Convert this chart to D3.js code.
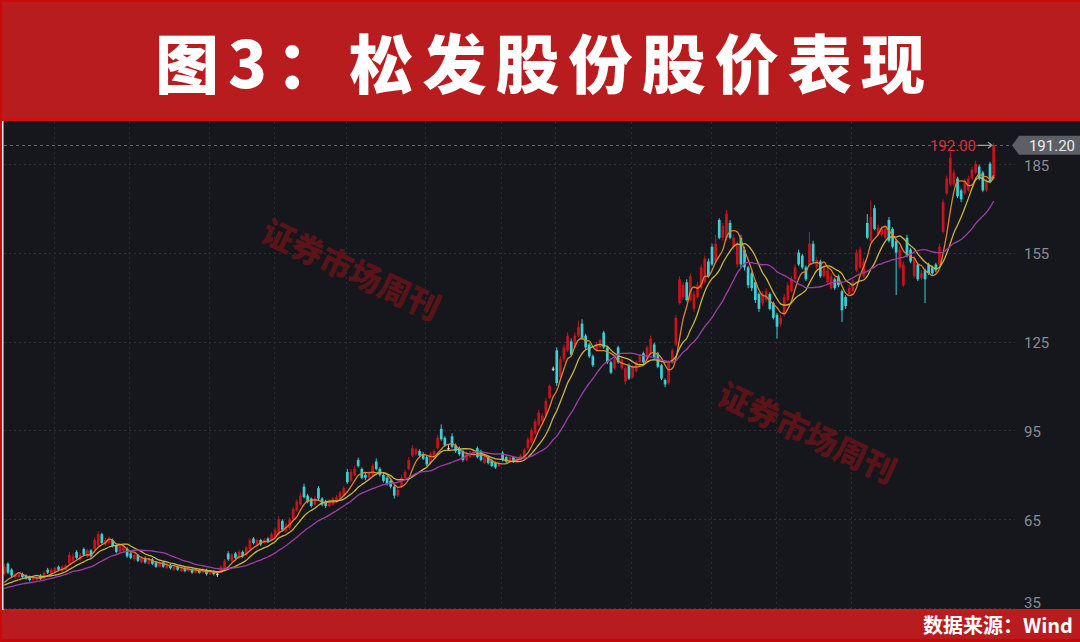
<!DOCTYPE html>
<html><head><meta charset="utf-8">
<script src="https://cdn.jsdelivr.net/npm/d3@7"></script>
<style>
html,body{margin:0;padding:0;background:#15171c;}
svg{display:block;}
</style></head><body>
<svg id="c" width="1080" height="642"></svg>
<script>
const title = "图3：松发股份股价表现";
const source = "数据来源：Wind";
const watermark = "证券市场周刊";
const yTicks = [35, 65, 95, 125, 155, 185];
const lastPrice = 191.20;
const maxPrice = 192.00;
const monthStarts = [14, 35, 57, 75, 95, 117, 138, 153, 174, 196, 214, 235];
const maPeriods = [5, 10, 20];
const maColors = ["#e3822a", "#c9b540", "#a23ca8"];
// closes before the first visible candle (estimated from the MA lines)
const preCloses = [40,39.5,40.5,41,40,40.5,41.5,41,40.5,41,42,41.5,42,42.5,41.5,42,42.5,43,42];

const open = [
46.5,50,48,45.5,45.5,46.5,46,45.5,44.5,44.5,
46,45,48,46.5,47,49,47.5,48,50,51,
54,51.5,55,52.5,54.5,55,56,60,56.5,57,
58,56,54,54.5,55,53.5,51.5,53,50.5,52,
50,51.5,50.5,49,50.5,48.5,49.5,48,49,47.5,
48.5,47.5,48,47,48,47,48,46.5,47.5,46.6,
47,48.5,53.5,51,53.5,52,54,53,55,58.5,
56.5,58,57,58.5,58,59,60,64.5,61,62,
65,68,70,76,73,72,70,75.5,72,71,
69.5,70,71,72,73,81,78,80,85,82,
80,79,80,84.5,82,80,79,78,76,73,
76,79,82,86.5,87,88,87,86,84,86,
89,95.5,92.5,89,93,90,89,88,85,86,
86.5,89,88,84,86,85,84,83,87.5,86,
84.5,86,84.5,85,86,89,91,94,97,98,
100,106,115.8,122,113,119,122,125,123,127,
131,127,124,120,122,123,128,123,118,116,
123,116,111.5,117,113,115,118,121,119,121,
124,121,117,112,111,118,124,138,140,145,
139,136,140,143,145,152,157,152,166,160,
160,165,157,151,160,156,150,148,145,141,
138,139,141,138,134,131,134,139,142,146,
155,154,150,151,158,150,152,147,145,143,
146,147,142,140,141,142,149,150,147,165,
159,170,161,161,160,166,163,159,150,144,
160,156,147,151,146.5,149,151,150,151,151,
162,175,178,178,180,176,175,176,180,182,
184,182,176,185,180];

const close = [
49,47,46,46.5,46.5,45.5,45,44.5,45.5,45.5,
45,47,47,48,48.5,48,49,49.5,53,52.5,
52,53,53,54.5,52.5,58,60,57,58,58.5,
56,54,56,56,52.5,52,53,51,52,50.5,
51.5,50,49,50.5,49,50,48.5,49,48,48.5,
47.5,48.5,47,48,47,48,46.5,47.5,46.5,46.6,
49,51,51.5,53,52,54,52.5,55.5,58,57,
58,56.5,58,57.5,60,61.5,65,61.5,63,65,
68.5,71,73,72.5,71,69.5,72,72,70,69.5,
71,72,72.5,74,75.5,77.5,81,82,83,79,
79,80.5,83,82,80,78,77,76,73,75,
79,81,85,89,88.5,86.5,85.5,83.5,87,88,
92.5,92,90,89,89.5,88,87,85,87,87.5,
88,86,85,86,84,83,82.5,84,85,84.5,
86,84.5,85.5,86.5,88.5,92,95,98,101,100,
105,110,115.8,111,119,123,127,120.5,127,130,
126,123,120,117,124,125.5,123,118,114.5,119,
118,119,116,112.5,116.5,118,120,118,123,126,
119.5,116.5,112.5,110.5,118,122,133,146,144,139,
147,141,144,150,153,147,151,158,160,164,
168,160,160,158,151,150,144,143,139,136,
141,142,136,133,130,133,140,144,146,150,
151,150,146,158,152,152.5,147,150,149,147,
143,144,135.5,137,143,145,155,156,152,160,
167,163,163.5,163,163,159,157,155,156,151,
154,152,153,146,148,146,148,148,149,157,
172,180,187,182,174,173,179,180,183,185,
180,176,179,179,191.2];

const high = [
50,50.5,48.5,47,47,47,46.4,46,46,46.2,
46.5,47.5,48.6,48.5,49,49.4,49.5,50,54,53.5,
54.6,53.8,55.5,55,55,58.8,61,60.5,58.8,59.2,
58.5,56.5,56.8,56.6,55.6,54,53.6,53.4,52.6,52.4,
52,52,51,51,51,50.5,50,49.5,49.4,49,
49,49,48.4,48.5,48.3,48.6,48.3,48,47.8,47.2,
49.5,51.6,54.2,53.6,54,54.6,54.5,56,58.6,59,
58.5,58.4,58.6,59,60.6,62.2,66,65,63.8,65.6,
69.2,71.8,74,77,73.6,72.4,72.8,76.2,72.5,71.6,
71.8,72.6,73.2,74.6,76.2,82,82,83,85.8,82.5,
80.6,81.2,83.8,85.5,82.6,80.5,79.6,78.4,76.5,75.8,
79.8,81.8,86,90,89.2,88.6,87.6,86.5,87.8,88.6,
93.5,97,93,90,94,90.6,89.6,88.5,87.8,88.2,
88.6,89.6,88.5,86.6,86.5,85.5,84.5,84.6,88,86.5,
86.6,86.4,86,87,89,92.8,95.8,98.8,102,100.8,
106,110.5,116.5,123,120,124,128,126,128,132,
132.5,127.6,124.5,120.6,124.8,126,128.6,123.6,118.5,119.6,
123.6,119.8,116.6,117.6,117,118.6,120.8,121.6,123.6,127,
124.6,121.5,117.5,112.5,118.6,122.6,134,147,145,146,
148,142,145,151,154,153,158,161,166.6,165,
169.5,166,161,159,161,157,150.5,148.6,145.6,141.6,
142,143,141.6,138.5,134.6,134,141,145,147,151,
156,154.6,150.6,162,159,153.5,152.6,151,150,148,
146.6,147.6,142.6,140.6,144,146,156,157,153,168,
172.6,171,164.5,164,164,167,163.6,159.6,157,152,
161,156.6,154,151.6,149,149.6,151.6,150.6,151.6,158,
173,181,189,183,180.6,176.6,180,181,184,186,
184.6,182.6,180,185.6,192];

const low = [
46,46.5,45.5,45,45.2,45,44.6,44,44.2,44.3,
44.6,44.8,46.5,46.2,46.8,47.5,47.2,47.8,49.6,50.5,
51.5,51,52.6,52,52,54.6,55.5,56.5,56,56.5,
55.5,53.5,53.6,54,52,51.5,51,50.6,50.2,50,
49.6,49.6,48.6,48.8,48.6,48.2,48,47.6,47.6,47.2,
47.1,47.2,46.6,46.7,46.6,46.7,46,46.2,46,45.6,
46.8,48.2,51,50.6,51.5,51.6,52,52.6,54.6,56.5,
56,56,56.6,57,57.6,58.6,59.5,61,60.5,61.6,
64.6,67.5,69.5,72,70.4,69,69.6,71.4,69.4,68.8,
69,69.6,70.5,71.6,72.6,77,77.5,79.5,82.5,78.5,
78.2,78.5,79.5,81.5,79.4,77.4,76.4,75.4,72,72.5,
75.5,78.5,81.5,86,86.5,86,85,83,83.5,85.5,
88.5,91.5,89.4,88.4,89,87.4,86.4,84.4,84.6,85.6,
86,85.5,84.5,83.6,83.5,82.6,82,82.6,84.5,84,
84,84,84,84.6,85.6,88.5,90.5,93.5,96.5,97.5,
99.5,105.5,115,110,112.5,118,121.5,120,122.5,126.5,
125.5,122.4,119.4,116.4,121.5,122.5,122.5,117.4,114,115.5,
117.5,115.4,110.5,112,112.5,114.5,117.5,117.4,118.5,120.5,
119,116,112,109.6,110.5,117.5,123.5,137.5,139,138.5,
138.5,135,139.5,142.5,144.5,146.5,150.5,151.5,159.5,159,
159,159.5,156,150,150,149,143,142,138,135,
137,138.4,135.5,132.4,126,130,133.5,138.5,141.5,145.5,
150.5,149.4,145.4,150.5,151.5,149.5,146.4,146.5,144.4,142.5,
142.4,143.4,131.6,136,140.4,141.5,148.5,149.5,146.4,159.5,
158.5,162.5,160.5,160.4,159.4,158.4,156.4,140.7,149.4,143.4,
153.4,151.4,146.4,145.4,145.8,138,147.4,147.4,148.4,150.4,
161.4,174.4,177.4,177.4,173.4,172,174.4,175.4,179.4,181.4,
179.4,175.4,175.4,178.4,179.4];

const W = 1080, H = 642;
const svg = d3.select("#c");
const BG = "#15171c", RED_BAND = "#b91c1f";

svg.append("rect").attr("width", W).attr("height", H).attr("fill", BG);

const idx = d3.range(close.length);
const x = d3.scaleBand().domain(idx).range([3, 995]).paddingInner(0.25);
const y = d3.scaleLinear().domain([35, 185]).range([608.2, 163.7]);
const cx = i => x(i) + x.bandwidth() / 2;

const plot = svg.append("g");

// horizontal grid
plot.selectAll("line.hg").data(yTicks).join("line")
  .attr("x1", 4).attr("x2", 1015)
  .attr("y1", d => Math.round(y(d)) + 0.5).attr("y2", d => Math.round(y(d)) + 0.5)
  .attr("stroke", "#2e3137").attr("stroke-width", 1).attr("stroke-dasharray", "2,3");

// vertical grid (month boundaries)
plot.selectAll("line.vg").data(monthStarts).join("line")
  .attr("x1", d => Math.round(x(d)) + 0.5).attr("x2", d => Math.round(x(d)) + 0.5)
  .attr("y1", 122).attr("y2", 609)
  .attr("stroke", "#2a2d33").attr("stroke-width", 1).attr("stroke-dasharray", "2,3");

// last price dashed line
plot.append("line")
  .attr("x1", 4).attr("x2", 1012)
  .attr("y1", Math.round(y(lastPrice)) + 0.5).attr("y2", Math.round(y(lastPrice)) + 0.5)
  .attr("stroke", "#62656c").attr("stroke-width", 1).attr("stroke-dasharray", "3,3");

// watermarks
const wm = [[352, 268], [808, 431]];
svg.selectAll("text.wm").data(wm).join("text")
  .attr("transform", d => `translate(${d[0]},${d[1]}) rotate(25)`)
  .attr("text-anchor", "middle").attr("dominant-baseline", "central")
  .attr("font-family", "'Noto Sans CJK SC', sans-serif").attr("font-weight", 900)
  .attr("font-size", 32).attr("fill", "#5e1419").attr("opacity", 0.95)
  .text(watermark);

// candles
const colorOf = i => close[i] > open[i] ? "#c5141b" : (close[i] < open[i] ? "#3ccfd3" : "#e8e8e8");
const cg = svg.append("g");
cg.selectAll("line.wick").data(idx).join("line")
  .attr("x1", i => cx(i)).attr("x2", i => cx(i))
  .attr("y1", i => y(high[i])).attr("y2", i => y(low[i]))
  .attr("stroke", colorOf).attr("stroke-width", 1);
cg.selectAll("rect.body").data(idx).join("rect")
  .attr("x", i => x(i)).attr("width", x.bandwidth())
  .attr("y", i => y(Math.max(open[i], close[i])))
  .attr("height", i => Math.max(1, Math.abs(y(open[i]) - y(close[i]))))
  .attr("fill", colorOf);

// moving averages
const allC = preCloses.concat(close);
const off = preCloses.length;
maPeriods.forEach((p, k) => {
  const ma = idx.map(i => d3.mean(allC.slice(i + off - p + 1, i + off + 1)));
  svg.append("path").datum(ma)
    .attr("d", d3.line().x((d, i) => cx(i)).y(d => y(d)).curve(d3.curveMonotoneX))
    .attr("fill", "none").attr("stroke", maColors[k]).attr("stroke-width", 1.3)
    .attr("stroke-linejoin", "round");
});

// right axis
const axis = d3.axisRight(y).tickValues(yTicks).tickSize(0).tickPadding(0).tickFormat(d3.format("d"));
const ag = svg.append("g").attr("transform", "translate(1024,0)").call(axis);
ag.select(".domain").remove();
ag.selectAll("text")
  .attr("font-family", "Roboto, 'Liberation Sans', sans-serif").attr("font-size", 15)
  .attr("fill", "#8a8d93").attr("x", 0)
  .attr("dy", d => d === 35 ? "-0.05em" : "0.42em");

// last price tag
const ly = y(lastPrice);
svg.append("path")
  .attr("d", `M1012,${ly} L1019,${ly - 9.5} L1080,${ly - 9.5} L1080,${ly + 9.5} L1019,${ly + 9.5} Z`)
  .attr("fill", "#5c5f66");
svg.append("text").attr("x", 1075).attr("y", ly + 5.5).attr("text-anchor", "end")
  .attr("font-family", "Roboto, 'Liberation Sans', sans-serif").attr("font-size", 15)
  .attr("fill", "#ececec").text(lastPrice.toFixed(2));

// max price marker
svg.append("text").attr("x", 976).attr("y", ly + 5.5).attr("text-anchor", "end")
  .attr("font-family", "Roboto, 'Liberation Sans', sans-serif").attr("font-size", 15)
  .attr("fill", "#d8303a").text(maxPrice.toFixed(2));
svg.append("path").attr("d", `M978,${ly} L992,${ly} M988,${ly - 3} L992,${ly} L988,${ly + 3}`)
  .attr("stroke", "#a0a0a0").attr("stroke-width", 1.2).attr("fill", "none");

// header band
svg.append("rect").attr("x", 0).attr("y", 0).attr("width", W).attr("height", 121).attr("fill", RED_BAND);
svg.append("rect").attr("x", 0).attr("y", 0).attr("width", W).attr("height", 2).attr("fill", "#c80a0a");
svg.append("rect").attr("x", 0).attr("y", 118).attr("width", W).attr("height", 3).attr("fill", "#d40d0d");
svg.append("text").attr("x", 155).attr("y", 88)
  .attr("font-family", "'Noto Sans CJK SC', sans-serif").attr("font-weight", 900)
  .attr("font-size", 64).attr("fill", "#ffffff")
  .attr("textLength", 770).attr("lengthAdjust", "spacing")
  .text(title);

// footer band
svg.append("rect").attr("x", 0).attr("y", 610).attr("width", W).attr("height", 32).attr("fill", RED_BAND);
svg.append("rect").attr("x", 0).attr("y", 609).attr("width", W).attr("height", 2).attr("fill", "#c91a1e");
svg.append("rect").attr("x", 0).attr("y", 639).attr("width", W).attr("height", 3).attr("fill", "#c40808");
svg.append("text").attr("x", 1073).attr("y", 633).attr("text-anchor", "end")
  .attr("font-family", "'Noto Sans CJK SC', sans-serif").attr("font-weight", 700)
  .attr("font-size", 20).attr("fill", "#ffffff").text(source);

// left frame
svg.append("rect").attr("x", 0).attr("y", 0).attr("width", 2).attr("height", H).attr("fill", "#c80a0a");
svg.append("rect").attr("x", 2).attr("y", 121).attr("width", 1.5).attr("height", 489).attr("fill", "#f2f2f2");
</script>
</body></html>
